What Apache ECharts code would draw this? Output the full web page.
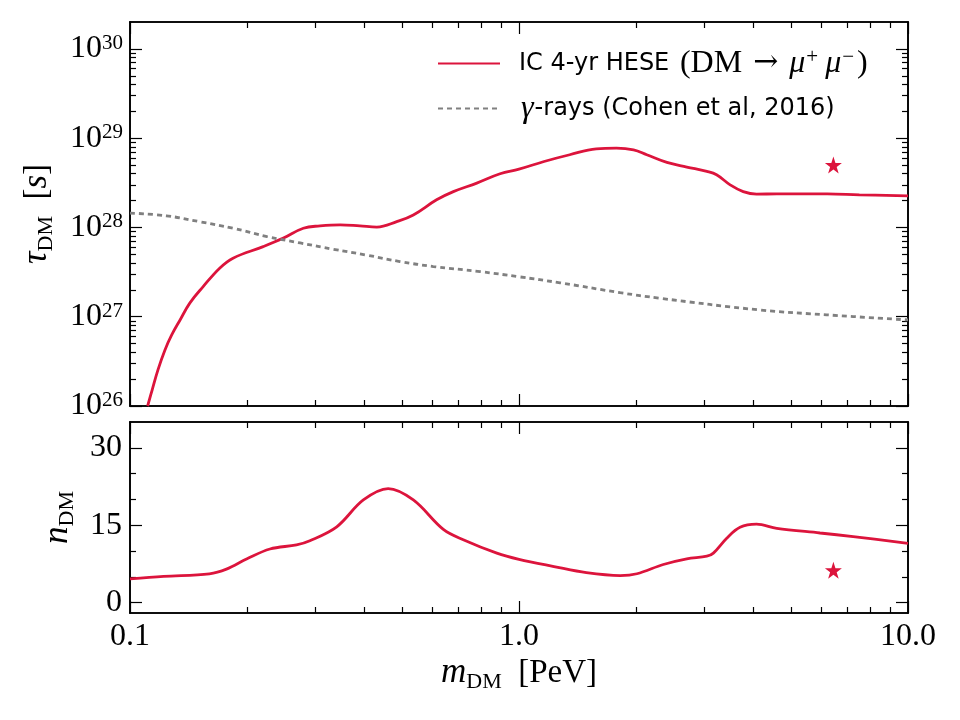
<!DOCTYPE html>
<html>
<head>
<meta charset="utf-8">
<script src="https://cdn.jsdelivr.net/npm/echarts@6/dist/echarts.min.js"></script>
<style>
html, body { margin: 0; padding: 0; background: #fff; }
#chart { width: 960px; height: 720px; }
</style>
</head>
<body>
<div id="chart"></div>
<script>
// IceCube HESE lifetime limit (top panel)
const massTau = [0.111, 0.114, 0.118, 0.123, 0.128, 0.1345, 0.1426, 0.154, 0.17, 0.184, 0.22, 0.248, 0.279, 0.308, 0.347, 0.39, 0.431, 0.485, 0.535, 0.614, 0.678, 0.779, 0.894, 1.0, 1.16, 1.35, 1.58, 1.78, 1.97, 2.13, 2.4, 2.7, 3.04, 3.22, 3.49, 3.77, 4.08, 4.6, 6.2, 7.5, 10]
const tauIC = [1.0e26, 1.51e26, 2.54e26, 4.25e26, 6.25e26, 9.2e26, 1.43e27, 2.16e27, 3.5e27, 4.53e27, 6.1e27, 7.6e27, 9.8e27, 1.04e28, 1.07e28, 1.04e28, 1.01e28, 1.16e28, 1.38e28, 2.04e28, 2.52e28, 3.14e28, 3.99e28, 4.5e28, 5.48e28, 6.52e28, 7.6e28, 7.74e28, 7.4e28, 6.52e28, 5.35e28, 4.75e28, 4.24e28, 3.89e28, 3.0e28, 2.52e28, 2.36e28, 2.38e28, 2.38e28, 2.32e28, 2.26e28]

// gamma-ray limit (Cohen et al, 2016)
const massGamma = [0.1, 0.124, 0.151, 0.184, 0.225, 0.274, 0.333, 0.406, 0.494, 0.602, 0.794, 1.0, 1.275, 1.82, 2.3, 4.16, 6.18, 10]
const tauGamma = [1.45e28, 1.35e28, 1.16e28, 9.8e27, 7.9e27, 6.7e27, 5.7e27, 4.9e27, 4.15e27, 3.65e27, 3.2e27, 2.8e27, 2.4e27, 1.86e27, 1.61e27, 1.19e27, 1.05e27, 9.2e26]

// number of events (bottom panel)
const massN = [0.1, 0.122, 0.16, 0.177, 0.2, 0.229, 0.268, 0.29, 0.34, 0.398, 0.461, 0.535, 0.639, 0.719, 0.877, 1.0, 1.23, 1.49, 1.82, 2.01, 2.35, 2.7, 3.04, 3.16, 3.42, 3.7, 4.08, 4.6, 5.94, 7.23, 10]
const nIC = [4.6, 5.1, 5.6, 6.5, 8.5, 10.4, 11.2, 12.0, 14.7, 19.9, 22.1, 19.9, 14.2, 12.2, 9.6, 8.4, 7.0, 5.8, 5.25, 5.6, 7.4, 8.5, 9.0, 9.6, 12.5, 14.6, 15.2, 14.4, 13.5, 12.8, 11.5]

// best fit point
const starMass = [6.43]
const starTau = [5.0e28]
const starN = [6.3]

// ticks
const xMajor = [0.1, 1, 10]
const xLabels = ['0.1', '1.0', '10.0']
const tauMajor = [1e26, 1e27, 1e28, 1e29, 1e30]
const nMajor = [0, 15, 30]
const nMinor = [5, 10, 20, 25]

const xMinor = []
for (const d of [0.1, 1]) for (let k = 2; k <= 9; k++) xMinor.push(k * d)
const tauMinor = []
for (let e = 26; e <= 29; e++) for (let k = 2; k <= 9; k++) tauMinor.push(k * Math.pow(10, e))

const RED = '#dc143c'
const SERIF = 'Liberation Serif'
const SANS = 'DejaVu Sans'
const STAR = 'path://M50,0 L61.8,35.3 L99,35.3 L69,57.3 L80.4,92.7 L50,70.8 L19.6,92.7 L31,57.3 L1,35.3 L38.2,35.3 Z'

const supRich = {
  b: { fontFamily: SERIF, fontSize: 32, lineHeight: 32, color: '#000' },
  s: { fontFamily: SERIF, fontSize: 21, lineHeight: 21, verticalAlign: 'top', color: '#000' }
}

const nameRich = {
  it: { fontFamily: SERIF, fontStyle: 'italic', fontSize: 35, lineHeight: 40, color: '#000' },
  r: { fontFamily: SERIF, fontSize: 33, lineHeight: 40, color: '#000' },
  sub: { fontFamily: SERIF, fontSize: 22, lineHeight: 22, verticalAlign: 'bottom', color: '#000' }
}

// one axis (major or minor ticks, on one side of a panel)
function makeAxis(grid, pos, type, min, max, ticks, len, extra) {
  return Object.assign({
    type: type,
    gridIndex: grid,
    position: pos,
    min: min,
    max: max,
    logBase: 10,
    axisLine: { show: true, onZero: false, lineStyle: { color: '#000', width: 1.6 } },
    axisTick: { show: true, inside: true, length: len, customValues: ticks, lineStyle: { color: '#000', width: 1.2 } },
    axisLabel: { show: false },
    splitLine: { show: false },
    minorTick: { show: false }
  }, extra || {})
}

const xAxes = []
const yAxes = []
// top panel
xAxes.push(makeAxis(0, 'bottom', 'log', 0.1, 10, xMajor, 12))
xAxes.push(makeAxis(0, 'bottom', 'log', 0.1, 10, xMinor, 6))
xAxes.push(makeAxis(0, 'top', 'log', 0.1, 10, xMajor, 12))
xAxes.push(makeAxis(0, 'top', 'log', 0.1, 10, xMinor, 6))
yAxes.push(makeAxis(0, 'left', 'log', 1e26, 2e30, tauMajor, 12, {
  axisLabel: {
    show: true, customValues: tauMajor, margin: 7,
    formatter: v => '{b|10}{s|' + Math.round(Math.log10(v)) + '}',
    rich: supRich
  },
  name: '{it|τ}{sub|DM}{r|  [}{it|s}{r|]}',
  nameLocation: 'middle',
  nameGap: 73,
  nameTextStyle: { rich: nameRich }
}))
yAxes.push(makeAxis(0, 'left', 'log', 1e26, 2e30, tauMinor, 6))
yAxes.push(makeAxis(0, 'right', 'log', 1e26, 2e30, tauMajor, 12))
yAxes.push(makeAxis(0, 'right', 'log', 1e26, 2e30, tauMinor, 6))
// bottom panel
xAxes.push(makeAxis(1, 'bottom', 'log', 0.1, 10, xMajor, 12, {
  axisLabel: {
    show: true, customValues: xMajor, margin: 8,
    formatter: v => xLabels[xMajor.findIndex(t => Math.abs(Math.log10(t / v)) < 1e-6)],
    fontFamily: SERIF, fontSize: 32, color: '#000'
  },
  name: '{it|m}{sub|DM}{r|  [PeV]}',
  nameLocation: 'middle',
  nameGap: 40,
  nameTextStyle: { rich: nameRich }
}))
xAxes.push(makeAxis(1, 'bottom', 'log', 0.1, 10, xMinor, 6))
xAxes.push(makeAxis(1, 'top', 'log', 0.1, 10, xMajor, 12))
xAxes.push(makeAxis(1, 'top', 'log', 0.1, 10, xMinor, 6))
yAxes.push(makeAxis(1, 'left', 'value', -2, 35, nMajor, 12, {
  axisLabel: {
    show: true, customValues: nMajor, margin: 8,
    fontFamily: SERIF, fontSize: 32, color: '#000'
  },
  name: '{it|n}{sub|DM}',
  nameLocation: 'middle',
  nameGap: 52,
  nameTextStyle: { rich: nameRich }
}))
yAxes.push(makeAxis(1, 'left', 'value', -2, 35, nMinor, 6))
yAxes.push(makeAxis(1, 'right', 'value', -2, 35, nMajor, 12))
yAxes.push(makeAxis(1, 'right', 'value', -2, 35, nMinor, 6))

const chart = echarts.init(document.getElementById('chart'))

const option = {
  backgroundColor: '#fff',
  animation: false,
  grid: [
    { left: 130, top: 22, width: 778, height: 384 },
    { left: 130, top: 422, width: 778, height: 191 }
  ],
  xAxis: xAxes,
  yAxis: yAxes,
  legend: {
    data: ['IC 4-yr HESE', 'gamma-rays'],
    orient: 'vertical',
    left: 432,
    top: 42,
    itemWidth: 62,
    itemHeight: 3,
    itemGap: 13,
    itemStyle: { opacity: 0 },
    formatter: function (name) {
      if (name === 'IC 4-yr HESE') {
        return '{g| }{sans|IC 4-yr HESE }{ser|(DM}{arr|→}{it|μ}{sup|+}{it|μ}{sup2|−}{ser|)}'
      }
      return '{g| }{it|γ}{sans|-rays (Cohen et al, 2016)}'
    },
    textStyle: {
      rich: {
        g: { width: 14, lineHeight: 33 },
        sans: { fontFamily: SANS, fontSize: 24, lineHeight: 33, color: '#000' },
        ser: { fontFamily: SERIF, fontSize: 32, lineHeight: 33, color: '#000', padding: [0, 3, 0, 3] },
        arr: { fontFamily: 'DejaVu Serif', fontSize: 30, lineHeight: 33, color: '#000', padding: [0, 9, 0, 8] },
        it: { fontFamily: SERIF, fontStyle: 'italic', fontSize: 32, lineHeight: 33, color: '#000', padding: [0, 1, 0, 2] },
        sup: { fontFamily: SERIF, fontSize: 21, lineHeight: 24, verticalAlign: 'top', color: '#000', padding: [0, 5, 0, 0] },
        sup2: { fontFamily: SERIF, fontSize: 21, lineHeight: 24, verticalAlign: 'top', color: '#000' }
      }
    }
  },
  series: [
    {
      name: 'IC 4-yr HESE',
      type: 'line',
      xAxisIndex: 0,
      yAxisIndex: 0,
      data: massTau.map((m, i) => [m, tauIC[i]]),
      smooth: 0.4,
      symbol: 'none',
      lineStyle: { color: RED, width: 2.8 },
      itemStyle: { color: RED },
      clip: true
    },
    {
      name: 'gamma-rays',
      type: 'line',
      xAxisIndex: 0,
      yAxisIndex: 0,
      data: massGamma.map((m, i) => [m, tauGamma[i]]),
      smooth: 0.4,
      symbol: 'none',
      lineStyle: { color: '#808080', width: 2.8, type: [5, 4] },
      itemStyle: { color: '#808080' }
    },
    {
      name: 'best fit top',
      type: 'scatter',
      xAxisIndex: 0,
      yAxisIndex: 0,
      data: starMass.map((m, i) => [m, starTau[i]]),
      symbol: STAR,
      symbolSize: 17,
      itemStyle: { color: RED, opacity: 1 }
    },
    {
      name: 'events',
      type: 'line',
      xAxisIndex: 4,
      yAxisIndex: 4,
      data: massN.map((m, i) => [m, nIC[i]]),
      smooth: 0.35,
      symbol: 'none',
      lineStyle: { color: RED, width: 2.8 },
      itemStyle: { color: RED }
    },
    {
      name: 'best fit bottom',
      type: 'scatter',
      xAxisIndex: 4,
      yAxisIndex: 4,
      data: starMass.map((m, i) => [m, starN[i]]),
      symbol: STAR,
      symbolSize: 17,
      itemStyle: { color: RED, opacity: 1 }
    }
  ]
}

chart.setOption(option)
</script>
</body>
</html>
